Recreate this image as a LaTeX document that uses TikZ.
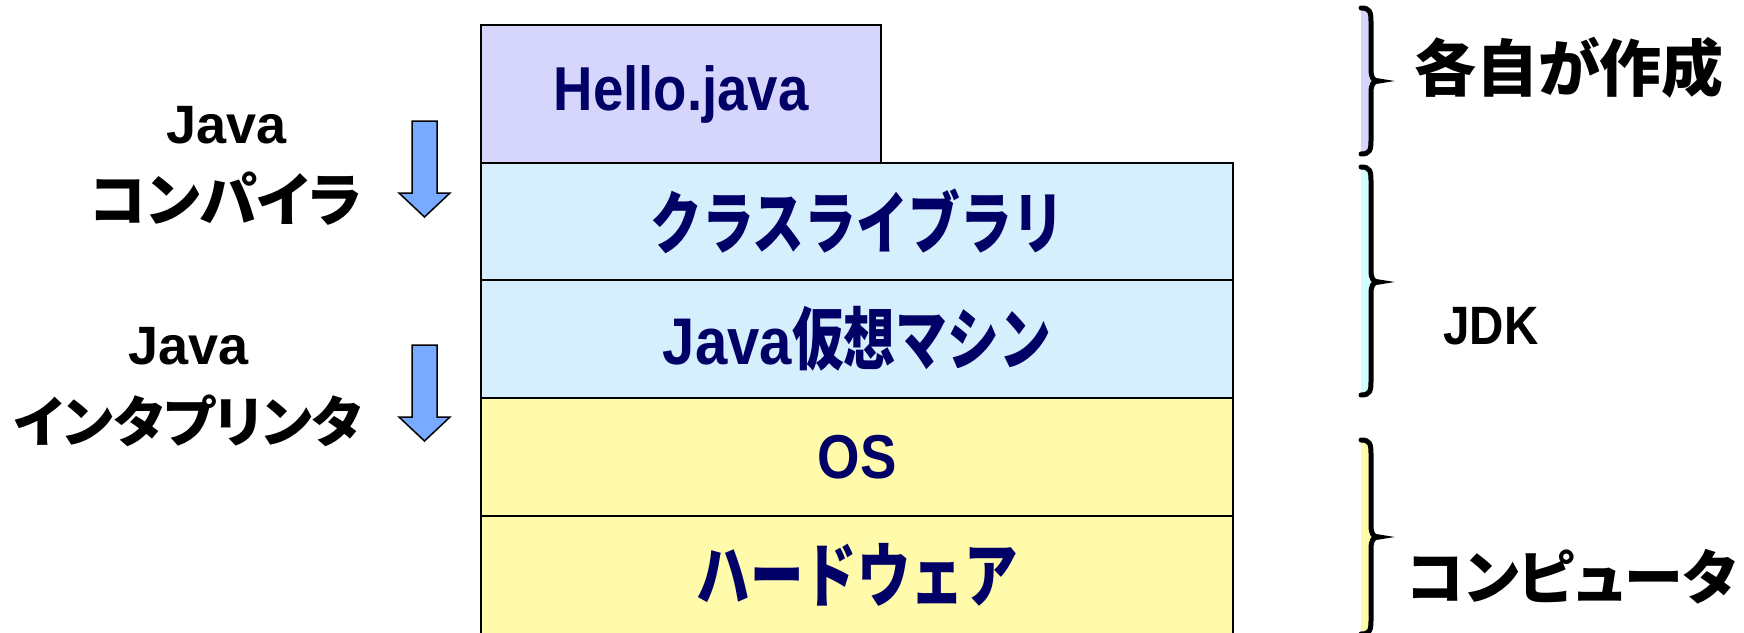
\documentclass[tikz,border=0pt]{standalone}
\usepackage{fontspec}
\setmainfont{Liberation Sans}
\newfontfamily\jpfont[RawFeature=+palt]{Noto Sans CJK JP}
\newfontfamily\narrowlatin[FakeStretch=0.88]{Liberation Sans}
\newfontfamily\narrowjp[FakeStretch=0.76, Scale=1.1]{Noto Sans CJK JP}
\usetikzlibrary{positioning, calc}
\definecolor{navytext}{RGB}{0,0,102}
\definecolor{lavender}{RGB}{214,214,252}
\definecolor{skyblue}{RGB}{213,239,253}
\definecolor{paleyellow}{RGB}{255,251,170}
\definecolor{palecyan}{RGB}{212,254,254}
\definecolor{arrowblue}{RGB}{120,170,255}
\tikzstyle{layer} = [draw, line width=2.5pt, outer sep=0pt, inner sep=0pt, anchor=north west, text=navytext, font=\fontsize{62}{62}\selectfont\bfseries]
\tikzstyle{wide} = [minimum width=752pt]
\tikzstyle{sidetext} = [align=center, font=\fontsize{54}{78}\selectfont\bfseries]
\tikzstyle{blockarrow} = [draw, line width=1.5pt, fill=arrowblue, line join=miter]
\tikzstyle{bracket} = [line width=5pt, line cap=round]

\begin{document}
\begin{tikzpicture}[x=1pt, y=-1pt]
            \useasboundingbox (0,0) rectangle (1744,632);

            % The layers
            \node[layer, fill=lavender, minimum width=400pt, minimum height=138pt] (hello_java) at (481,25)
                {\narrowlatin Hello.java};
            \node[layer, wide, fill=skyblue, minimum height=117pt] (class_library) at (hello_java.south west)
                {\narrowjp クラスライブラリ};
            \node[layer, wide, fill=skyblue, minimum height=118pt] (java_vm) at (class_library.south west)
                {{\narrowlatin\fontsize{66}{66}\selectfont Java}\narrowjp 仮想マシン};
            \node[layer, wide, fill=paleyellow, minimum height=118pt] (os) at (java_vm.south west)
                {\narrowlatin OS};
            \node[layer, wide, fill=paleyellow, minimum height=118pt] (hardware) at (os.south west)
                {\narrowjp\fontsize{64}{64}\selectfont ハードウェア};

            % The tools on the left
            \node[sidetext, anchor=east] (compiler) at (366,166)
                {Java\\{\jpfont\fontsize{58}{78}\selectfont コンパイラ}};
            \node[sidetext, anchor=east] (interpreter) at (366,387)
                {Java\\{\jpfont\fontsize{55}{78}\selectfont インタプリンタ}};
            \draw[blockarrow] (412,121) -- ++(25,0) -- ++(0,72) -- ++(13,0) -- ++(-25.5,24)
                -- ++(-25.5,-24) -- ++(13,0) -- cycle;
            \draw[blockarrow] (412,345) -- ++(25,0) -- ++(0,72) -- ++(13,0) -- ++(-25.5,24)
                -- ++(-25.5,-24) -- ++(13,0) -- cycle;

            % The braces on the right
            \fill[lavender] (1361,8) .. controls (1370,8) and (1371,12) .. (1371,22) -- (1371,69)
                .. controls (1371,78) and (1373,81) .. (1379,81) .. controls (1373,81) and (1371,84) .. (1371,93)
                -- (1371,140) .. controls (1371,150) and (1370,154) .. (1361,154) -- cycle;
            \draw[bracket] (1361,8) .. controls (1370,8) and (1371,12) .. (1371,22) -- (1371,69)
                .. controls (1371,78) and (1373,81) .. (1379,81) .. controls (1373,81) and (1371,84) .. (1371,93)
                -- (1371,140) .. controls (1371,150) and (1370,154) .. (1361,154);
            \fill[palecyan] (1361,167) .. controls (1370,167) and (1371,171) .. (1371,181) -- (1371,270)
                .. controls (1371,279) and (1373,282) .. (1379,282) .. controls (1373,282) and (1371,285) .. (1371,294)
                -- (1371,381) .. controls (1371,391) and (1370,395) .. (1361,395) -- cycle;
            \draw[bracket] (1361,167) .. controls (1370,167) and (1371,171) .. (1371,181) -- (1371,270)
                .. controls (1371,279) and (1373,282) .. (1379,282) .. controls (1373,282) and (1371,285) .. (1371,294)
                -- (1371,381) .. controls (1371,391) and (1370,395) .. (1361,395);
            \fill[paleyellow] (1361,440) .. controls (1370,440) and (1371,444) .. (1371,454) -- (1371,525)
                .. controls (1371,534) and (1373,537) .. (1379,537) .. controls (1373,537) and (1371,540) .. (1371,549)
                -- (1371,620) .. controls (1371,630) and (1370,634) .. (1361,634) -- cycle;
            \draw[bracket] (1361,440) .. controls (1370,440) and (1371,444) .. (1371,454) -- (1371,525)
                .. controls (1371,534) and (1373,537) .. (1379,537) .. controls (1373,537) and (1371,540) .. (1371,549)
                -- (1371,620) .. controls (1371,630) and (1370,634) .. (1361,634);

            \node[sidetext] (own_code) at (1569,68) {\jpfont\fontsize{62}{62}\selectfont 各自が作成};
            \node[sidetext] (jdk) at (1491,326) {\narrowlatin JDK};
            \node[sidetext] (computer) at (1572,577) {\jpfont\fontsize{59}{59}\selectfont コンピュータ};
        \end{tikzpicture}
\end{document}
